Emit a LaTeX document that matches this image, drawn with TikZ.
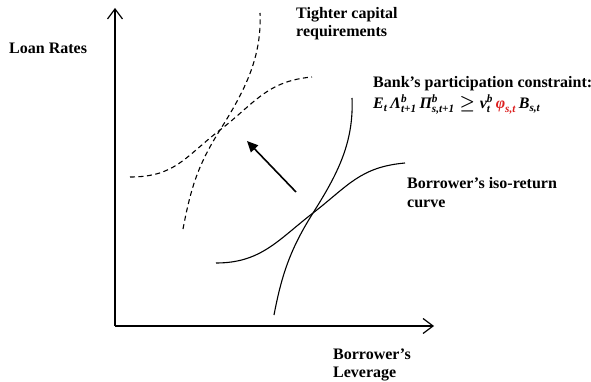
\documentclass[tikz,border=0pt]{standalone}
\usepackage{amsmath,bm}
\usepackage{fontspec}
\setmainfont{Liberation Serif}
\usetikzlibrary{arrows.meta,calc}
\definecolor{phired}{RGB}{220,30,30}
\newcommand{\bt}[1]{\text{\normalfont\bfseries\itshape #1}}
\begin{document}
\begin{tikzpicture}[x=1pt,y=-1pt,
  lbl/.style={anchor=base west,inner sep=0pt,font=\fontsize{16}{18}\selectfont\bfseries,align=left},
  axis/.style={line width=1.4pt,-{Straight Barb[length=10pt,width=15pt,line width=1.2pt]}},
  curvel/.style={line width=1.1pt},
  dashcurve/.style={line width=1.1pt,dash pattern=on 5pt off 3.5pt},
  shiftarrow/.style={line width=1.6pt,-{Triangle[length=11pt,width=10pt]}}]
\useasboundingbox (0,0) rectangle (591,382);
% axes
\coordinate (O) at (115,326);
\coordinate (ytop) at (115,8);
\coordinate (xend) at (434,326);
\draw[axis] (O) -- (ytop);
\draw[axis] (O) -- (xend);
% solid curves
\coordinate (C) at (313,213);
\coordinate (B) at (274,315);
\coordinate (T) at (352,98);
\coordinate (L) at (216,263);
\coordinate (R) at (405,163);
\draw[curvel] (B) .. controls ($(B)+(8,-42)$) and ($(C)+(-22,35)$) .. (C)
  .. controls ($(C)+(24,-38)$) and ($(T)+(2,45)$) .. (T);
\draw[curvel] (L) .. controls ($(L)+(45,0)$) and ($(C)+(-35,27)$) .. (C)
  .. controls ($(C)+(35,-27)$) and ($(R)+(-45,4)$) .. (R);
% dashed curves
\coordinate (Cd) at (220,130);
\coordinate (Bd) at (183,229);
\coordinate (Td) at (260,13);
\coordinate (Ld) at (130,177);
\coordinate (Rd) at (312,77);
\draw[dashcurve] (Bd) .. controls ($(Bd)+(8,-42)$) and ($(Cd)+(-22,35)$) .. (Cd)
  .. controls ($(Cd)+(24,-38)$) and ($(Td)+(2,45)$) .. (Td);
\draw[dashcurve] (Ld) .. controls ($(Ld)+(45,0)$) and ($(Cd)+(-35,27)$) .. (Cd)
  .. controls ($(Cd)+(35,-27)$) and ($(Rd)+(-45,4)$) .. (Rd);
% shift arrow
\coordinate (atail) at (296,192);
\coordinate (ahead) at (247,141);
\draw[shiftarrow] (atail) -- (ahead);
% labels
\node[lbl] (loan) at (9,54) {Loan Rates};
\node[lbl] (tight) at (296,37) {Tighter capital\\requirements};
\node[lbl] (bank) at (373,88) {Bank’s participation constraint:};
\node[lbl,font=\fontsize{16}{18}\selectfont\bfseries] (eq) at (373,108.5) {$\bt{E}_{\bt{t}}\,\bt{Λ}^{\bt{b}}_{\bt{t+1}}\,\bt{Π}^{\bt{b}}_{\bt{s,t+1}}\boldsymbol{\geq} \bt{v}^{\bt{b}}_{\bt{t}}\,{\color{phired}\bt{φ}_{\bt{s,t}}}\,\bt{B}_{\bt{s,t}}$};
\node[lbl] (iso) at (407,207) {Borrower’s iso-return\\curve};
\node[lbl] (lev) at (333,377) {Borrower’s\\Leverage};
\end{tikzpicture}
\end{document}
